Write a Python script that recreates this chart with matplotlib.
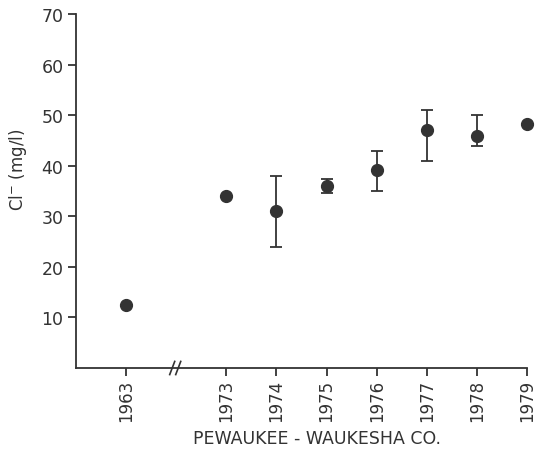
import matplotlib
matplotlib.use("Agg")
import matplotlib.pyplot as plt
import numpy as np

years = ["1963", "1973", "1974", "1975", "1976", "1977", "1978", "1979"]
positions = [0, 2, 3, 4, 5, 6, 7, 8]
chloride = [12.5, 34.0, 31.0, 35.9, 39.1, 47.0, 45.9, 48.2]
err_low = [0, 0, 7.1, 1.3, 4.1, 6.0, 2.0, 0]
err_high = [0, 0, 7.0, 1.5, 3.8, 4.0, 4.2, 0]
yticks = [10, 20, 30, 40, 50, 60, 70]

ink = "#333333"
plt.rcParams['font.family'] = ['DejaVu Sans']

fig = plt.figure(figsize=(5.36, 4.56), dpi=100)
ax = fig.add_axes([76/536, 1 - 369/456, (527 - 76)/536, (369 - 15)/456])

ax.errorbar(positions, chloride, yerr=[err_low, err_high], fmt='o', color=ink,
            ecolor=ink, markersize=8.5, capsize=4, elinewidth=1.3, capthick=1.3,
            clip_on=False, zorder=3)

ax.set_xlim(-1, 8)
ax.set_ylim(0, 70)
ax.set_xticks(positions)
ax.set_xticklabels(years, rotation=90, fontsize=12, color=ink)
ax.set_yticks(yticks)
ax.set_yticklabels([str(v) for v in yticks], fontsize=12.5, color=ink)

for s in ["top", "right"]:
    ax.spines[s].set_visible(False)
for s in ["left", "bottom"]:
    ax.spines[s].set_color(ink)
    ax.spines[s].set_linewidth(1.3)
ax.tick_params(axis='both', colors=ink, width=1.3, length=6, direction='out')
ax.tick_params(axis='x', pad=1.5)
ax.tick_params(axis='y', pad=3)

# axis break marks
for dx in (-0.06, 0.06):
    ax.plot([0.98 + dx - 0.05, 0.98 + dx + 0.05], [-1.3, 1.3], color=ink,
            lw=1.2, clip_on=False, zorder=4)

fig.text(317/536, 1 - 439/456, "PEWAUKEE - WAUKESHA CO.", ha='center',
         va='center', fontsize=12.5, color=ink)
fig.text(18/536, 1 - 170/456, "Cl$^{-}$ (mg/l)", rotation=90, ha='center',
         va='center', fontsize=12, color=ink)

fig.savefig("out.png", dpi=100, facecolor="white")
